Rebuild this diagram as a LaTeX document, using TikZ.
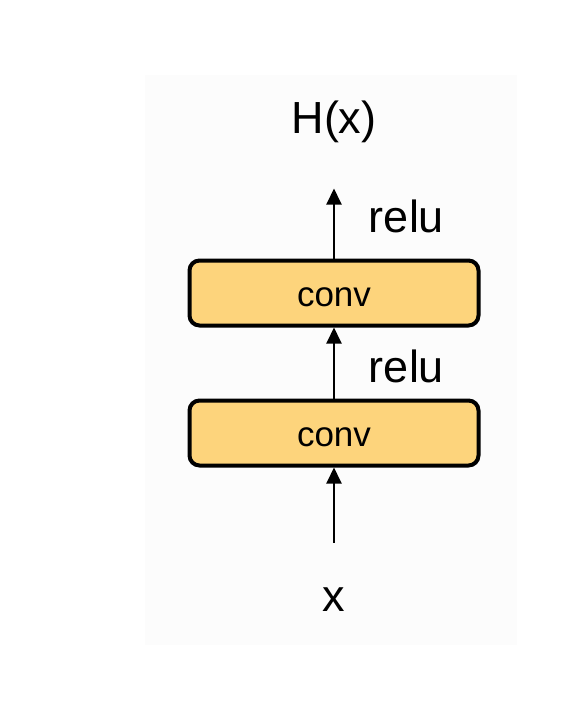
\documentclass[tikz,border=0pt]{standalone}
\usepackage{fontspec}
\setmainfont{Liberation Sans}
\usetikzlibrary{arrows.meta, positioning}
\definecolor{convfill}{HTML}{FDD47C}
\definecolor{panelgray}{HTML}{FCFCFC}

\begin{document}
\begin{tikzpicture}[>={Triangle[length=8pt,width=7.5pt]}]
    \tikzstyle{block}=[rectangle, draw, line width=2pt, rounded corners=5pt, fill=convfill, align=center, minimum width=144.5pt, minimum height=32.5pt, text height=13.5pt, text depth=0pt, font=\fontsize{17.5}{21}\selectfont]
    \tikzstyle{lbl}=[inner sep=0pt, font=\fontsize{22.5}{27}\selectfont]
    \tikzstyle{flow}=[->, line width=1pt]

    \useasboundingbox (0,0) rectangle (293pt,-354.5pt);
    \fill[panelgray] (72.5pt,-37.5pt) rectangle (258.5pt,-322.5pt);

    \node[block] (conv1) at (167pt,-216.5pt) {conv};
    \node[block, above=35.5pt of conv1] (conv2) {conv};
    \coordinate[below=37.5pt of conv1] (xin);
    \coordinate[above=35pt of conv2] (hout);
    \node[lbl, below=22.5pt of xin] (x) {x};
    \node[lbl, above=22.5pt of hout] (H) {H(x)};

    \draw[flow] (xin) -- (conv1);
    \draw[flow] (conv1) -- node[lbl, pos=0.45, right=17pt]{relu} (conv2);
    \draw[flow] (conv2) -- node[lbl, pos=0.6, right=17pt]{relu} (hout);
\end{tikzpicture}
\end{document}
